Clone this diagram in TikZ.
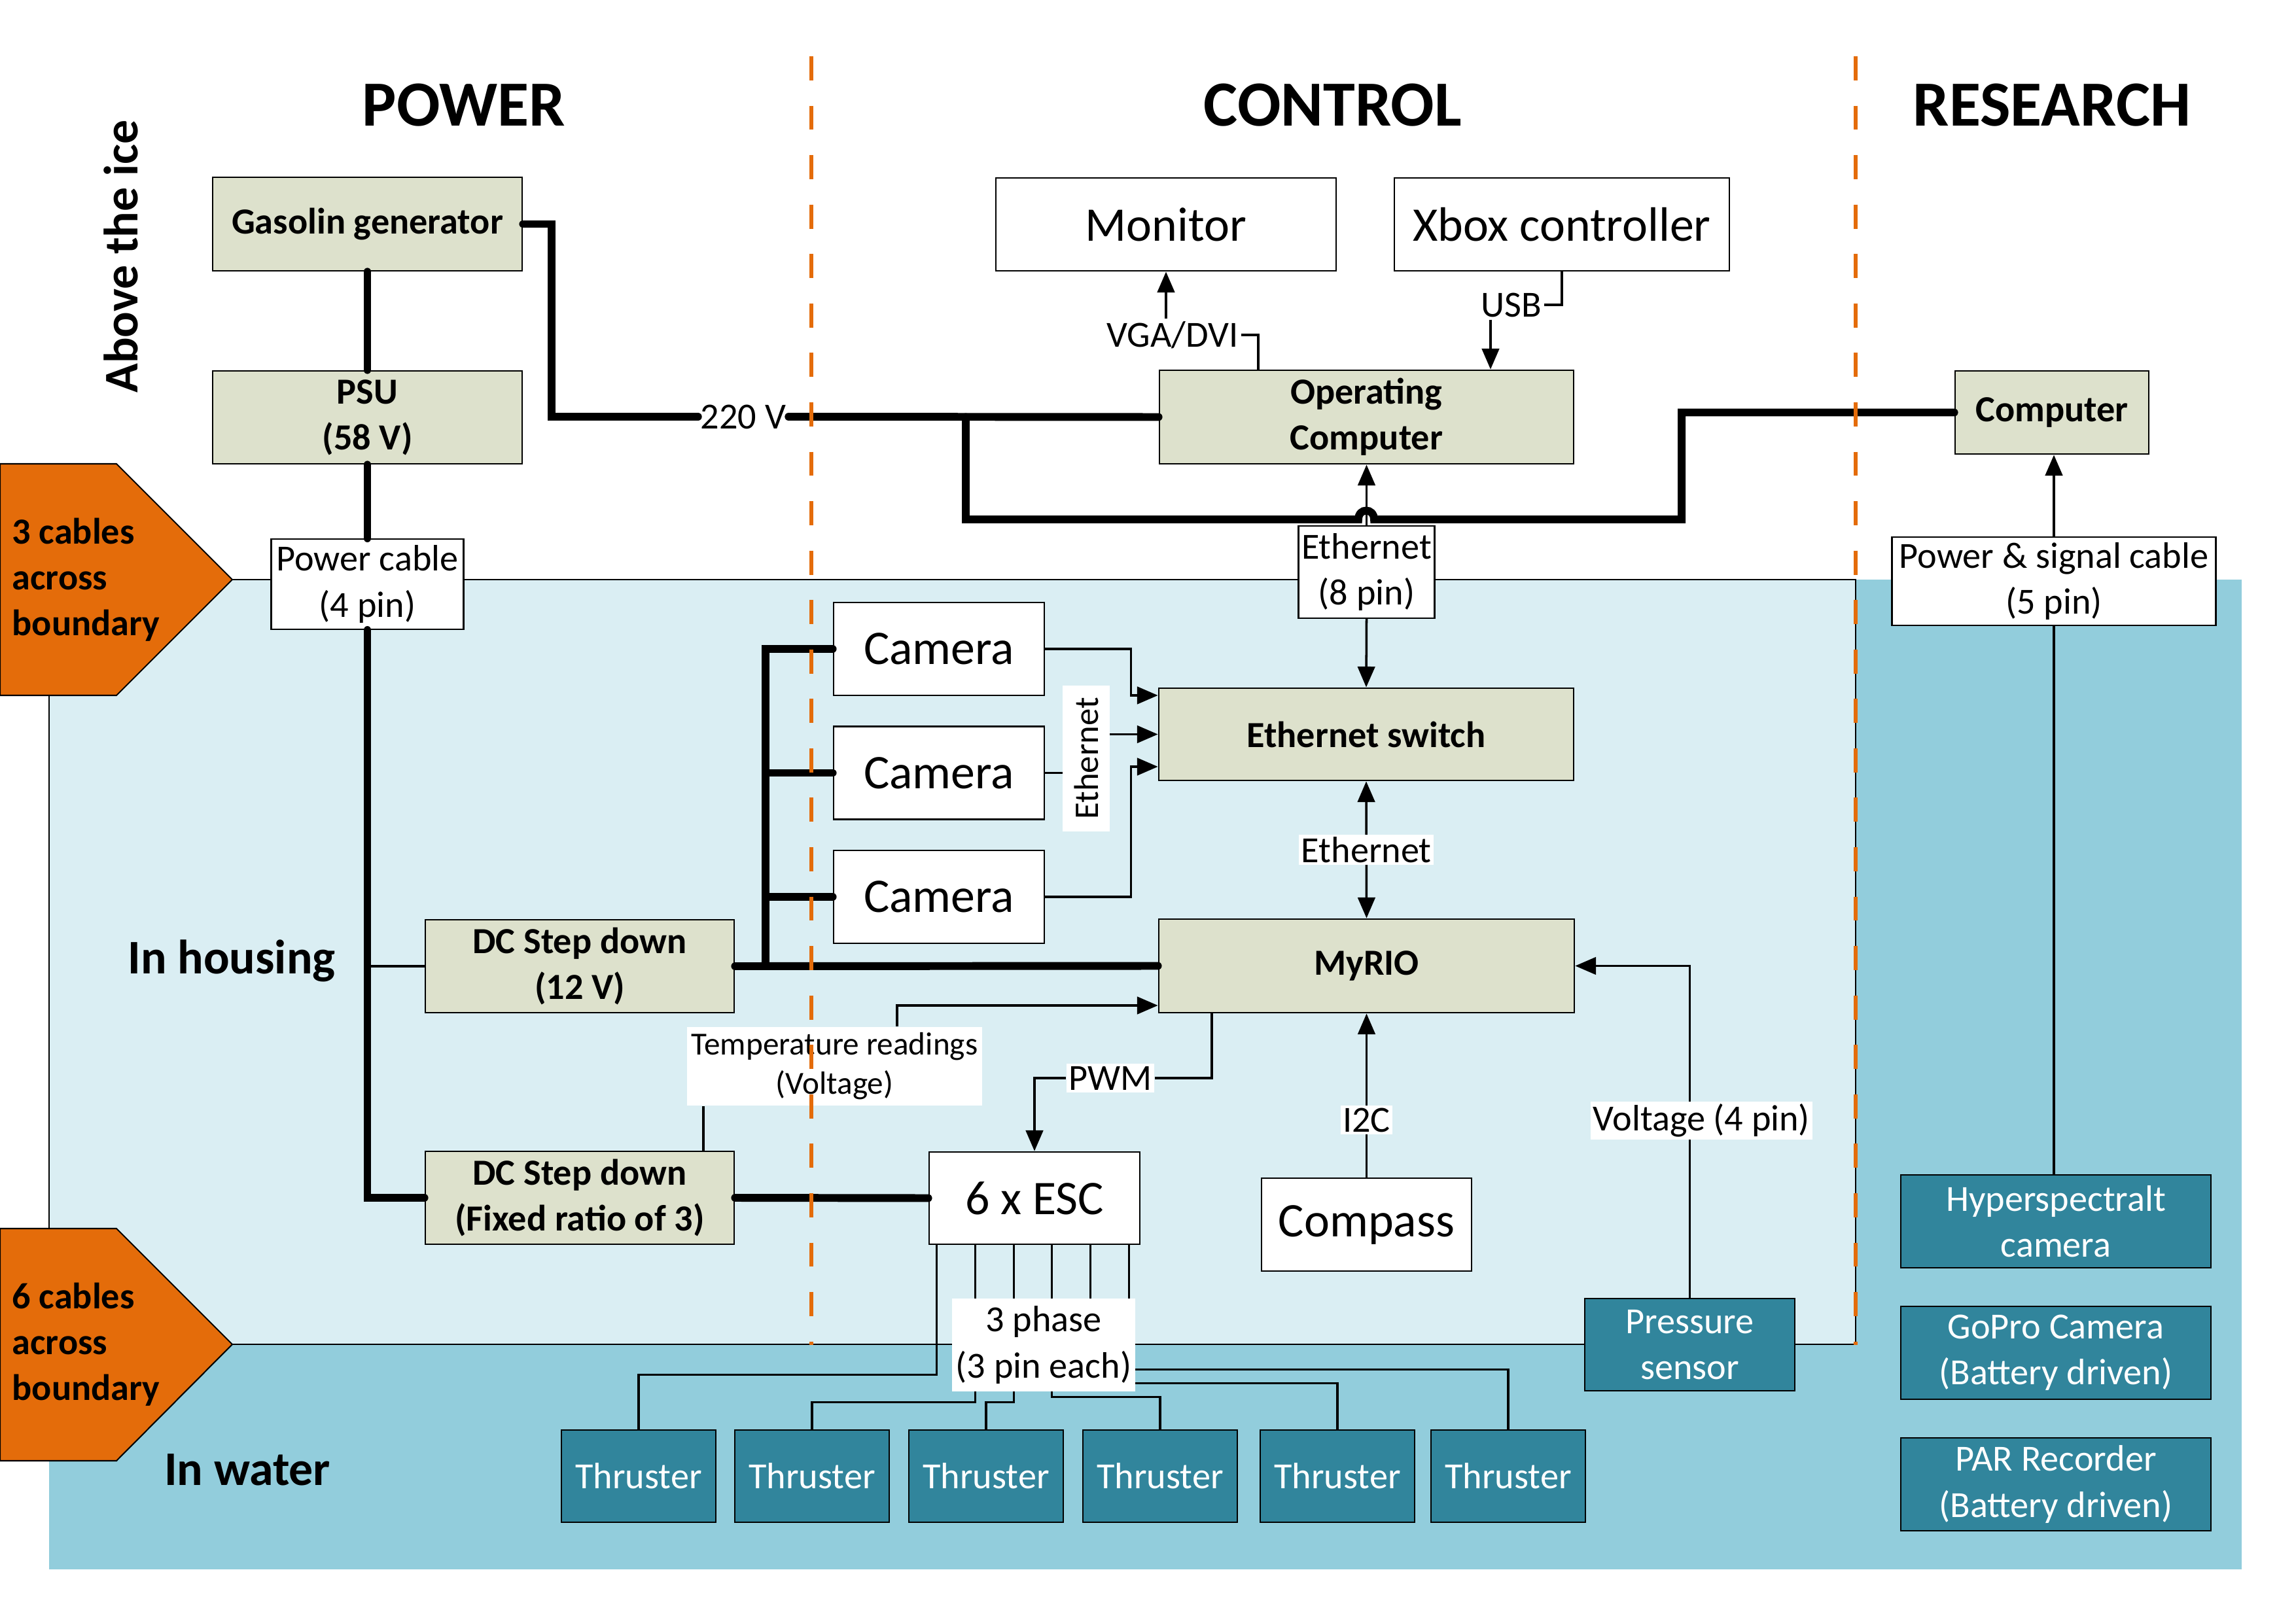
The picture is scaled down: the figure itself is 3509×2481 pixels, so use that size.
\documentclass[tikz,border=0pt]{standalone}
\usepackage{fontspec}
\setmainfont{Carlito}
\usetikzlibrary{arrows.meta, positioning, calc}
\definecolor{boxolive}{RGB}{221,225,204}
\definecolor{housingblue}{RGB}{218,238,243}
\definecolor{waterblue}{RGB}{146,205,220}
\definecolor{sensorteal}{RGB}{49,133,156}
\definecolor{borderorange}{RGB}{228,108,10}

\begin{document}
\begin{tikzpicture}[x=0.1mm, y=-0.1mm,
    unit/.style={rectangle, draw, line width=0.8pt, fill=boxolive, align=center, inner sep=0pt, font=\fontsize{16}{20}\selectfont\bfseries},
    device/.style={rectangle, draw, line width=0.8pt, fill=white, inner sep=0pt, font=\fontsize{21}{25}\selectfont},
    sensor/.style={rectangle, draw, line width=0.8pt, fill=sensorteal, text=white, align=center, inner sep=0pt, font=\fontsize{16}{20}\selectfont},
    cable/.style={rectangle, draw, line width=0.6pt, fill=white, align=center, inner sep=0pt, font=\fontsize{16}{20}\selectfont},
    lbl/.style={fill=white, align=center, inner sep=1pt, font=\fontsize{16}{20}\selectfont},
    region/.style={font=\fontsize{21}{25}\selectfont\bfseries},
    title/.style={font=\fontsize{28}{34}\selectfont\bfseries},
    power/.style={line width=3.4pt, line cap=round},
    wire/.style={line width=1pt},
    arr/.style={-{Triangle[length=9pt, width=7.5pt]}, line width=1pt},
    darr/.style={{Triangle[length=9pt, width=7.5pt]}-{Triangle[length=9pt, width=7.5pt]}, line width=1pt},
    boundary/.style={draw, line width=0.6pt, fill=borderorange},
    divider/.style={borderorange, line width=1.9pt, dash pattern=on 10.5pt off 11pt}
]
\useasboundingbox (0,0) rectangle (3509,2481);

% Regions
\fill[waterblue] (75,2055) rectangle (3426,2399);
\fill[waterblue] (2836,886) rectangle (3426,2055);
\draw[line width=0.6pt, fill=housingblue] (75,886) rectangle (2836,2055);

\draw[boundary] (0,709) -- (178,709) -- (355,886) -- (178,1063) -- (0,1063) -- cycle;
\draw[boundary] (0,1878) -- (178,1878) -- (355,2055) -- (178,2233) -- (0,2233) -- cycle;
\node[anchor=west, align=left, inner sep=0pt, font=\fontsize{16}{20}\selectfont\bfseries] (cross3) at (18,886) {3 cables\\across\\boundary};
\node[anchor=west, align=left, inner sep=0pt, font=\fontsize{16}{20}\selectfont\bfseries] (cross6) at (18,2055) {6 cables\\across\\boundary};

\node[title] (powerhd) at (709,161) {POWER};
\node[title] (controlhd) at (2037,161) {CONTROL};
\node[title] (researchhd) at (3136,161) {RESEARCH};
\node[region, rotate=90] (above) at (185,392) {Above the ice};
\node[region] (housing) at (354,1469) {In housing};
\node[region] (water) at (378,2247) {In water};

% Above the ice
\node[unit, minimum width=47.3mm, minimum height=14.3mm] (gen) at (561.5,342.5) {Gasolin generator};
\node[unit, minimum width=47.3mm, minimum height=14.2mm] (psu) at (561.5,638) {PSU\\(58 V)};
\node[device, minimum width=52mm, minimum height=14.2mm] (mon) at (1782,343) {Monitor};
\node[device, minimum width=51.2mm, minimum height=14.2mm] (xbox) at (2387,343) {Xbox controller};
\node[unit, minimum width=63.3mm, minimum height=14.3mm] (opc) at (2088.5,637.5) {Operating\\Computer};
\node[unit, minimum width=29.6mm, minimum height=12.7mm] (comp) at (3136,630.5) {Computer};

% Cable labels
\node[cable, minimum width=29.4mm, minimum height=13.8mm] (pcable) at (561.5,893) {Power cable\\(4 pin)};
\node[cable, minimum width=20.8mm, minimum height=14.1mm] (eth8) at (2088.5,874.5) {Ethernet\\(8 pin)};
\node[cable, minimum width=49.5mm, minimum height=13.5mm] (pscable) at (3139,888.5) {Power \& signal cable\\(5 pin)};
\node[lbl] (v220) at (1136,637) {220 V};
\node[lbl] (vga) at (1792,512) {VGA/DVI};
\node[lbl] (usb) at (2310,466) {USB};

% In housing
\foreach \n/\cy in {1/992, 2/1181.5, 3/1371}
    \node[device, minimum width=32.2mm, minimum height=14.2mm] (cam\n) at (1435,\cy) {Camera};
\node[unit, minimum width=63.4mm, minimum height=14.1mm] (sw) at (2088,1122.5) {Ethernet switch};
\node[unit, minimum width=63.5mm, minimum height=14.3mm] (myrio) at (2088.5,1476.5) {MyRIO};
\node[unit, minimum width=47.2mm, minimum height=14.2mm] (dc1) at (886,1477) {DC Step down\\(12 V)};
\node[unit, minimum width=47.2mm, minimum height=14.2mm] (dc2) at (886,1831) {DC Step down\\(Fixed ratio of 3)};
\node[device, minimum width=32.2mm, minimum height=14.1mm] (esc) at (1581,1831.5) {6 x ESC};
\node[device, minimum width=32.1mm, minimum height=14.2mm] (compass) at (2088.5,1872) {Compass};
\node[sensor, minimum width=32.1mm, minimum height=14.1mm] (pressure) at (2582.5,2055.5) {Pressure\\sensor};
\node[lbl, inner sep=0pt, minimum width=45.1mm, minimum height=12mm, font=\fontsize{14}{17}\selectfont] (temp) at (1275.5,1630) {Temperature readings\\(Voltage)};
\node[lbl] (pwm) at (1697,1648) {PWM};

% In water
\foreach \n/\cx in {1/976, 2/1241, 3/1507, 4/1773, 5/2044, 6/2305}
    \node[sensor, minimum width=23.6mm, minimum height=14.1mm] (t\n) at (\cx,2256.5) {Thruster};
\node[sensor, minimum width=47.4mm, minimum height=14.2mm] (hyper) at (3142,1867) {Hyperspectralt\\camera};
\node[sensor, minimum width=47.4mm, minimum height=14.2mm] (gopro) at (3142,2068) {GoPro Camera\\(Battery driven)};
\node[sensor, minimum width=47.4mm, minimum height=14.2mm] (par) at (3142,2269) {PAR Recorder\\(Battery driven)};

% Power lines
\draw[power] (gen.south) -- (psu.north);
\draw[power] (psu.south) -- (pcable.north);
\draw[power] (pcable.south) |- (dc2.west);
\draw[wire] (pcable.south |- dc1.west) -- (dc1.west);
\draw[power] (gen.east) -- ++(44,0) |- (v220.west);
\draw[power] (v220.east) -- (opc.west);
\coordinate (tap) at (1476,637.5);
\draw[power] (tap) |- (2076,794) .. controls (2076,776) and (2100,776) .. (2100,794) -- (2570,794) |- (comp.west);
\coordinate (bus) at (1170,1477);
\draw[power] (dc1.east) -- (myrio.west);
\draw[power] (cam1.west) -| (bus);
\foreach \n in {2,3}
    \draw[power] (cam\n.west) -- (cam\n.west -| bus);
\draw[power] (dc2.east) -- (esc.west);

% Signal lines
\draw[wire] ([xshift=-16.55mm]opc.north) |- (vga.east);
\draw[arr] (vga.north -| mon.south) -- (mon.south);
\draw[wire] (xbox.south) |- (usb.east);
\coordinate (usbin) at ([xshift=18.95mm]opc.north);
\draw[arr] (usb.south -| usbin) -- (usbin);
\draw[arr] (eth8.north) -- (opc.south);
\draw[arr] (eth8.south) -- (sw.north);
\draw[arr] (pscable.north) -- (pscable.north |- comp.south);
\draw[wire] (pscable.south) -- (pscable.south |- hyper.north);

\coordinate (ethin1) at ([yshift=5.95mm]sw.west);
\coordinate (ethin3) at ([yshift=-4.95mm]sw.west);
\draw[arr] (cam1.east) -- ++(131,0) |- (ethin1);
\draw[arr] (cam3.east) -- ++(131,0) |- (ethin3);
\draw[wire] (cam2.east) -- ++(60,0);
\draw[arr] ([xshift=-10mm]sw.west) -- (sw.west);
\node[lbl, rotate=90, inner sep=0pt, minimum width=22.3mm, minimum height=7.2mm, font=\fontsize{15}{18}\selectfont] (ethrot) at (1660,1159.5) {Ethernet};

\draw[darr] (sw.south) -- node[lbl] (ethsw) {Ethernet} (myrio.north);
\draw[arr] (compass.north) -- node[lbl, pos=0.35] (i2c) {I2C} (myrio.south);
\draw[arr] (pressure.north) |- node[lbl, pos=0.267, xshift=1.8mm] (volt) {Voltage (4 pin)} (myrio.east);

\coordinate (tmpin) at ([xshift=18.9mm]dc2.north);
\draw[wire] (tmpin) -- (tmpin |- temp.south);
\coordinate (tmpout) at ([yshift=-6.05mm]myrio.west);
\draw[arr] ([xshift=9.55mm]temp.north) |- (tmpout);
\draw[wire] ([xshift=-23.65mm]myrio.south) |- (pwm.east);
\draw[arr] (pwm.west) -| (esc.north);

% ESC to thrusters
\foreach \n/\dx/\dy in {1/13/198, 2/72/240, 3/131/240, 4/189/232, 5/248/211, 6/307/190}
    \draw[wire] ([xshift=\dx*0.1mm]esc.south west) -- ++(0,\dy) -| (t\n.north);
\node[lbl, inner sep=0pt, minimum width=28mm, minimum height=14.2mm] (phase) at (1595,2056) {3 phase\\(3 pin each)};

% Section dividers
\draw[divider] (1240,86) -- (1240,2056);
\draw[divider] (2836,86) -- (2836,2056);

\end{tikzpicture}
\end{document}
